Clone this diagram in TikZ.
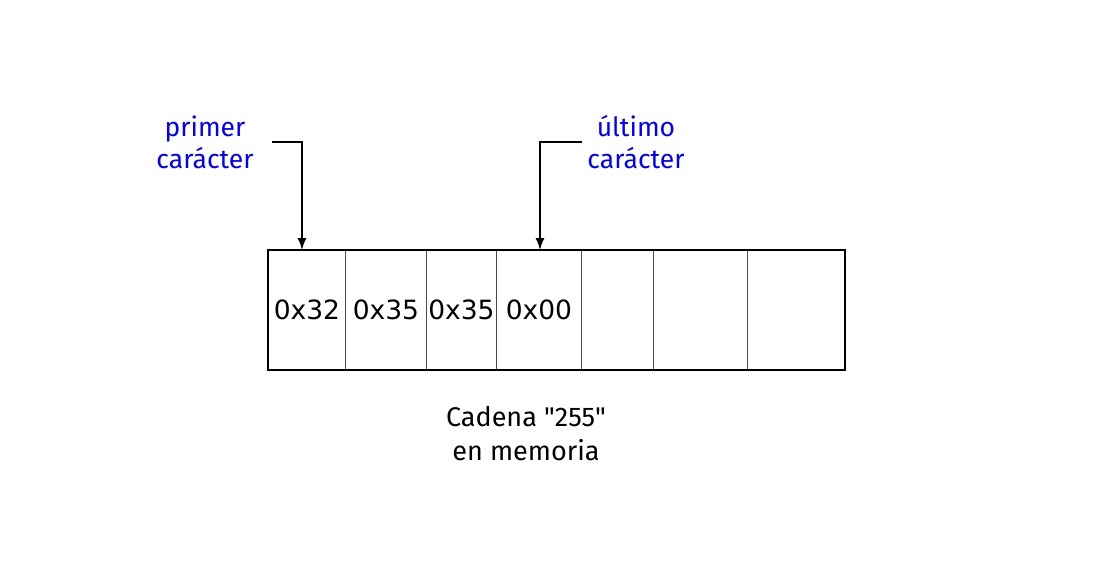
\documentclass[tikz,border=0pt]{standalone}
\usepackage{fontspec}
\setmainfont{Fira Sans}
\newfontfamily\hexfont{DejaVu Sans}
\usetikzlibrary{arrows.meta}
\definecolor{lblblue}{RGB}{0,0,255}
\begin{document}
\begin{tikzpicture}[x=1pt,y=-1pt,
  cellbox/.style={draw=black!70, line width=0.9pt, minimum height=119pt, inner sep=0pt, anchor=north west, font=\hexfont\fontsize{26.5}{30}\selectfont},
  lbl/.style={text=lblblue, align=center, font=\fontsize{26.5}{32}\selectfont},
  captext/.style={align=center, font=\fontsize{27}{34}\selectfont},
  ptr/.style={line width=1.4pt, -{Latex[length=12pt,width=9pt]}}]
\useasboundingbox (0,0) rectangle (1097,574);
\node[cellbox, minimum width=77pt] (c1) at (268,250) {0x32};
\node[cellbox, minimum width=81pt] (c2) at (345,250) {0x35};
\node[cellbox, minimum width=70pt] (c3) at (426,250) {0x35};
\node[cellbox, minimum width=85pt] (c4) at (496,250) {0x00};
\node[cellbox, minimum width=72pt] (c5) at (581,250) {};
\node[cellbox, minimum width=94pt] (c6) at (653,250) {};
\node[cellbox, minimum width=97pt] (c7) at (747,250) {};
\draw[line width=1.6pt] (c1.north west) rectangle (c7.south east);
\node[lbl] (l1) at (205,142) {primer\\carácter};
\node[lbl] (l2) at (636,142) {último\\carácter};
\node[captext] (cp) at (526,434) {Cadena \textquotedbl255\textquotedbl\\en memoria};
\coordinate (s1) at (272,142);
\coordinate (t1) at (302,250);
\coordinate (s2) at (582,142);
\coordinate (t2) at (540,250);
\draw[ptr] (s1) -| (t1);
\draw[ptr] (s2) -| (t2);
\end{tikzpicture}
\end{document}
